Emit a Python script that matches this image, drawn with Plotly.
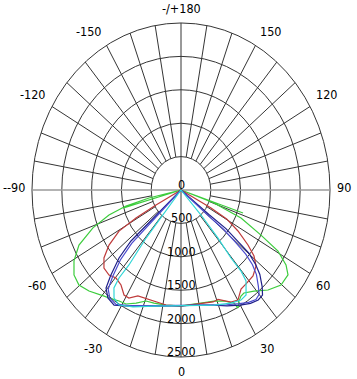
import numpy as np
import plotly.graph_objects as go

# ---- data: angle (deg, 0 = downward, + = right) and intensity (cd) ----
GREEN_ANGLE = [-74.5, -90, -77.4, -75.4, -72.8, -69.0, -64.3, -59.4, -54.7, -50.3, -45.6, -41.5,
               -39.1, -36.8, -32.0, -28.4, -24.0, -19.5, -15.0, -8.3, 0, 11.2, 18.4, 23.5, 27.7,
               28.4, 30.3, 32.4, 34.4, 39.0, 44.3, 49.7, 54.7, 57.5, 60.7, 63.3, 67.4, 70.6, 90, 71.7]
GREEN_CD = [1000, 0, 550, 954, 1265, 1583, 1900, 2086, 2200, 2226, 2161, 2078,
            2046, 2018, 1960, 1940, 1853, 1763, 1752, 1740, 1733, 1725, 1752, 1812, 1911,
            2008, 1926, 1879, 1869, 1946, 2091, 2200, 2200, 2089, 1866, 1502, 1091, 587, 0, 1096]

RED_ANGLE = [-90, -62.5, -61.8, -61.0, -59.4, -55.7, -51.8, -47.9, -43.5, -39.6, -35.3, -31.3,
             -28.4, -24.5, -21.0, -15.8, -8.3, 0, 9.6, 15.0, 17.8, 20.8, 23.5, 26.6, 30.1, 31.8,
             34.2, 37.8, 43.2, 47.9, 51.1, 53.8, 57.3, 60.5, 61.9, 62.5, 90]
RED_CD = [0, 0, 476, 864, 1208, 1462, 1645, 1742, 1754, 1710, 1742, 1840,
          1838, 1743, 1732, 1727, 1740, 1737, 1730, 1745, 1760, 1750, 1805, 1875, 1904, 1849,
          1792, 1780, 1765, 1697, 1574, 1393, 1136, 880, 571, 0, 0]

NAVY_ANGLE = [-90, -48.5, -48.3, -48.2, -47.7, -45.6, -42.7, -40.6, -37.2, -33.1, -26.7, -14.0,
              0, 9.4, 17.8, 24.0, 30.0, 34.5, 38.2, 41.0, 43.2, 46.3, 48.3, 50.3, 51.2, 52.5,
              52.0, 51.5, 90]
NAVY_CD = [0, 0, 404, 787, 1134, 1455, 1740, 1933, 2029, 2056, 1944, 1790,
           1735, 1745, 1809, 1900, 1990, 2060, 2095, 2085, 1990, 1830, 1680, 1480, 1200, 950,
           600, 0, 0]

BLUE_ANGLE = [-90, -46.5, -46.5, -46.5, -46.0, -44.2, -41.5, -39.5, -36.5, -32.5, -26.5, -14.0,
              0, 9.4, 17.8, 24.0, 30.0, 34.0, 37.5, 40.0, 42.0, 45.0, 47.0, 48.5, 49.5, 50.5,
              50.0, 49.5, 90]
BLUE_CD = [0, 0, 400, 800, 1150, 1460, 1730, 1920, 2010, 2030, 1935, 1785,
           1728, 1740, 1800, 1880, 1965, 2030, 2065, 2040, 1940, 1790, 1640, 1450, 1200, 930,
           590, 0, 0]

CYAN_ANGLE = [-90, -39.0, -38.9, -39.2, -37.9, -38.3, -37.5, -34.8, -31.1, -24.7, -14.1, 0,
              9.4, 17.8, 26.4, 31.4, 34.8, 38.7, 39.7, 39.5, 40.8, 41.9, 41.5, 90]
CYAN_CD = [0, 0, 481, 928, 1422, 1678, 1848, 1969, 2011, 1927, 1791, 1730,
           1745, 1809, 1889, 1930, 1913, 1745, 1576, 1319, 950, 503, 0, 0]

RADIAL_TICKS = [0, 500, 1000, 1500, 2000, 2500]
ANGLE_TICKS = [180, 150, 120, 90, 60, 30, 0, -30, -60, -90, -120, -150]
ANGLE_TEXT = ["-/+180", "150", "120", "90", "60", "30", "0", "-30", "-60", "--90", "-120", "-150"]

SERIES = [
    ("green", GREEN_ANGLE, GREEN_CD, "#3ccc3c"),
    ("red", RED_ANGLE, RED_CD, "#bf3a3a"),
    ("navy", NAVY_ANGLE, NAVY_CD, "#20208a"),
    ("blue", BLUE_ANGLE, BLUE_CD, "#4b4bcf"),
    ("cyan", CYAN_ANGLE, CYAN_CD, "#2fd6d6"),
]

RMAX = 2500
FONT = dict(family="DejaVu Sans Condensed, DejaVu Sans, Verdana, sans-serif", size=12.5, color="#000")


def to_xy(theta, r):
    t = np.radians(np.asarray(theta, dtype=float))
    r = np.asarray(r, dtype=float)
    return r * np.sin(t), -r * np.cos(t)


fig = go.Figure()
for name, ang, cd, col in SERIES:
    x, y = to_xy(ang, cd)
    fig.add_trace(go.Scatter(x=x, y=y, mode="lines", name=name,
                             line=dict(color=col, width=1.2), hoverinfo="skip"))

shapes = []
grid_col = "#353535"
for r in RADIAL_TICKS[1:]:
    shapes.append(dict(type="circle", xref="x", yref="y", x0=-r, x1=r, y0=-r, y1=r,
                       line=dict(color=grid_col, width=1), layer="below"))
for a in range(0, 360, 10):
    if a in (90, 270):
        continue
    r0 = 0 if a in (0, 180) else RADIAL_TICKS[1]
    x0, y0 = to_xy(a, r0)
    x1, y1 = to_xy(a, RMAX)
    shapes.append(dict(type="line", xref="x", yref="y", x0=float(x0), y0=float(y0),
                       x1=float(x1), y1=float(y1), line=dict(color=grid_col, width=1), layer="below"))
shapes.append(dict(type="line", xref="x", yref="y", x0=-RMAX, x1=RMAX, y0=0, y1=0,
                   line=dict(color="#9a9a9a", width=1.6), layer="below"))

annotations = []
for r in RADIAL_TICKS:
    annotations.append(dict(x=0, y=-r, xref="x", yref="y", text=str(r), showarrow=False,
                            xanchor="center", yanchor="bottom", yshift=-4, font=FONT))
RLAB = 2580
for a, txt in zip(ANGLE_TICKS, ANGLE_TEXT):
    x, y = to_xy(a, RLAB)
    s = np.sin(np.radians(a))
    xa = "left" if s > 0.01 else ("right" if s < -0.01 else "center")
    ysh = 0
    if abs(abs(a) - 90) < 1:
        ya = "middle"
        ysh = 3
    else:
        ya = "bottom" if y > 0 else "top"
    annotations.append(dict(x=float(x), y=float(y), xref="x", yref="y", text=txt, showarrow=False,
                            xanchor=xa, yanchor=ya, yshift=ysh, font=FONT))

fig.update_layout(
    width=357, height=379,
    margin=dict(l=0, r=0, t=0, b=0),
    paper_bgcolor="white", plot_bgcolor="white",
    showlegend=False,
    xaxis=dict(range=[-3037, 2953], visible=False, fixedrange=True),
    yaxis=dict(range=[-2829, 2844], visible=False, fixedrange=True),
    shapes=shapes, annotations=annotations,
)

fig.write_html("out.html", config={"displayModeBar": False},
               post_script="document.body.style.margin='0';")
